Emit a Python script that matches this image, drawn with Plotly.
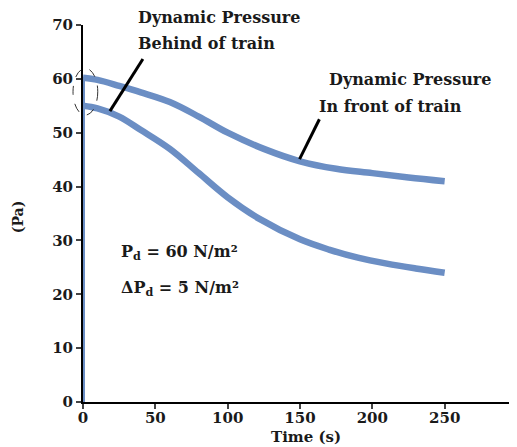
import plotly.graph_objects as go

# Data
time_front = [0, 10, 25, 40, 60, 80, 100, 125, 150, 175, 200, 225, 250]
p_front = [60.2, 59.8, 58.7, 57.5, 55.7, 53.0, 50.0, 47.0, 44.7, 43.3, 42.5, 41.7, 41.0]

time_behind = [0, 10, 25, 40, 60, 80, 100, 122, 150, 170, 190, 210, 230, 250]
p_behind = [55.0, 54.5, 53.0, 50.5, 47.0, 42.5, 38.0, 34.0, 30.2, 28.3, 26.8, 25.7, 24.8, 24.0]

# initial ramp at t = 0
time_start = [0, 0]
p_start = [0, 60.2]

x_ticks = [0, 50, 100, 150, 200, 250]
y_ticks = [0, 10, 20, 30, 40, 50, 60, 70]

line_color = "#6b8ec4"
font_family = "DejaVu Serif"
txt_color = "#1a1a1a"

fig = go.Figure()
fig.add_trace(go.Scatter(x=time_start, y=p_start, mode="lines",
                         line=dict(color=line_color, width=4), showlegend=False))
fig.add_trace(go.Scatter(x=time_front, y=p_front, mode="lines",
                         line=dict(color=line_color, width=6.5, shape="spline"),
                         showlegend=False))
fig.add_trace(go.Scatter(x=time_behind, y=p_behind, mode="lines",
                         line=dict(color=line_color, width=6.5, shape="spline"),
                         showlegend=False))

# Ellipse around start points (paper coords so it is not clipped)
fig.add_shape(type="circle", xref="paper", yref="paper",
              x0=-0.023, x1=0.034, y0=0.761, y1=0.885,
              line=dict(color="#333333", width=1, dash="dash"))
# Pointer lines
fig.add_shape(type="line", xref="x", yref="y", x0=41.4, y0=63.7, x1=18.6, y1=54.0,
              line=dict(color="black", width=3))
fig.add_shape(type="line", xref="x", yref="y", x0=163.4, y0=52.5, x1=149.7, y1=45.1,
              line=dict(color="black", width=3))

tfont = dict(family=font_family, size=16, color=txt_color, weight="bold")
anns = [
    dict(xref="x", yref="paper", x=37.3, y=1.021, text="Dynamic Pressure"),
    dict(xref="x", yref="paper", x=37.3, y=0.950, text="Behind of train"),
    dict(xref="x", yref="y", x=169.3, y=59.8, text="Dynamic Pressure"),
    dict(xref="x", yref="y", x=162.4, y=54.8, text="In front of train"),
    dict(xref="x", yref="y", x=25.6, y=27.7, text="P<sub>d</sub> = 60 N/m²"),
    dict(xref="x", yref="y", x=25.6, y=21.0, text="ΔP<sub>d</sub> = 5 N/m²"),
]
for a in anns:
    fig.add_annotation(showarrow=False, yanchor="middle", xanchor="left",
                       font=tfont, borderpad=0, **a)

# Axis titles
fig.add_annotation(xref="paper", yref="paper", x=0.514, y=-0.094, text="Time (s)",
                   showarrow=False, xanchor="center", yanchor="middle",
                   font=dict(family=font_family, size=15, color=txt_color, weight="bold"))
fig.add_annotation(xref="paper", yref="paper", x=-0.150, y=0.49, text="(Pa)",
                   showarrow=False, xanchor="center", yanchor="middle", textangle=-90,
                   font=dict(family=font_family, size=14, color=txt_color, weight="bold"))

tick_font = dict(family=font_family, size=15, color=txt_color, weight="bold")
fig.update_layout(
    width=517, height=447,
    margin=dict(l=75, r=8, t=17, b=53, autoexpand=False),
    paper_bgcolor="white", plot_bgcolor="white",
    font=dict(family=font_family, size=14, color=txt_color),
    xaxis=dict(range=[0, 300], tickvals=x_ticks, ticks="outside", ticklen=5,
               tickwidth=2, showline=True, linecolor="black", linewidth=2,
               showgrid=False, zeroline=False, tickfont=tick_font, automargin=False,
               ticklabelstandoff=-4),
    yaxis=dict(range=[0, 70], tickvals=y_ticks, ticks="outside", ticklen=5,
               tickwidth=2, showline=True, linecolor="black", linewidth=2,
               showgrid=False, zeroline=False, tickfont=tick_font, automargin=False),
)

fig.write_html("out.html")
